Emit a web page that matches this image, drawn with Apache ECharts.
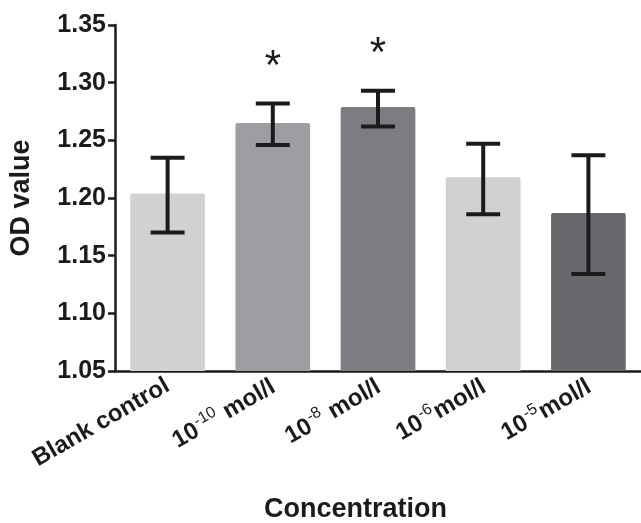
<!DOCTYPE html>
<html lang="en">
<head>
    <meta charset="utf-8">
    <title>OD value by concentration</title>
    <style>
        html, body { margin: 0; padding: 0; background: #fff; }
        #chart { width: 641px; height: 523px; }
    </style>
</head>
<body>
    <div id="chart"></div>
    <script src="https://cdn.jsdelivr.net/npm/echarts@6/dist/echarts.min.js"></script>
    <script type="text/javascript">
        // data
        var categories = ['Blank control', '10^-10^ mol/l', '10^-8^ mol/l', '10^-6^mol/l', '10^-5^mol/l'];
        var means = [1.204, 1.265, 1.279, 1.218, 1.187];
        var errUpper = [1.235, 1.282, 1.293, 1.247, 1.237];
        var errLower = [1.170, 1.246, 1.262, 1.186, 1.134];
        var marks = ['', '*', '*', '', ''];
        var barColors = ['#d0d1d3', '#9d9ea2', '#7c7d81', '#d0d1d3', '#68696d'];

        var font = '"Liberation Sans", Arial, Helvetica, sans-serif';
        var ink = '#1b1b1b';

        // "10^-10^ mol/l" -> rich text with a superscript
        function labelFmt(v) {
            var parts = v.split('^');
            if (parts.length < 3) return '{b|' + v + '}';
            return '{b|' + parts[0] + '}{sup|' + parts[1] + '}{b|' + parts[2] + '}';
        }

        var chart = echarts.init(document.getElementById('chart'));
        var option = {
            backgroundColor: '#fff',
            animation: false,
            grid: { left: 115, right: 0, top: 25, bottom: 152 },
            xAxis: {
                type: 'category',
                data: categories,
                axisLine: { lineStyle: { color: ink, width: 2.5 } },
                axisTick: { alignWithLabel: true, length: 5, lineStyle: { color: ink, width: 2.5 } },
                axisLabel: {
                    rotate: 30,
                    margin: 13,
                    formatter: labelFmt,
                    rich: {
                        b: { fontFamily: font, fontWeight: 'bold', fontSize: 24, color: ink, verticalAlign: 'bottom' },
                        sup: { fontFamily: font, fontWeight: 'normal', fontSize: 16, color: ink, verticalAlign: 'top', padding: [0, 1, 11, 1] }
                    }
                }
            },
            yAxis: {
                type: 'value',
                min: 1.05,
                max: 1.35,
                interval: 0.05,
                name: 'OD value',
                nameLocation: 'middle',
                nameGap: 80,
                nameTextStyle: { fontFamily: font, fontWeight: 'bold', fontSize: 27, color: ink },
                splitLine: { show: false },
                axisLine: { show: true, lineStyle: { color: ink, width: 2.5 } },
                axisTick: { show: true, length: 7, lineStyle: { color: ink, width: 2.5 } },
                axisLabel: {
                    margin: 9,
                    fontFamily: font,
                    fontWeight: 'bold',
                    fontSize: 25,
                    color: ink,
                    formatter: function (v) { return v.toFixed(2); }
                }
            },
            graphic: [{
                type: 'text',
                left: 264,
                top: 496,
                style: { text: 'Concentration', fontFamily: font, fontWeight: 'bold', fontSize: 27, fill: ink }
            }],
            series: [
                {
                    type: 'bar',
                    barWidth: '71%',
                    data: means.map(function (m, i) {
                        return { value: m, itemStyle: { color: barColors[i], borderRadius: [2, 2, 0, 0] } };
                    })
                },
                {
                    type: 'custom',
                    z: 5,
                    data: means.map(function (m, i) { return [i, errLower[i], errUpper[i]]; }),
                    renderItem: function (params, api) {
                        var i = api.value(0);
                        var lo = api.coord([i, api.value(1)]);
                        var hi = api.coord([i, api.value(2)]);
                        var cap = 17;
                        var st = { stroke: ink, lineWidth: 4 };
                        var kids = [
                            { type: 'line', shape: { x1: hi[0], y1: hi[1], x2: lo[0], y2: lo[1] }, style: st },
                            { type: 'line', shape: { x1: hi[0] - cap, y1: hi[1], x2: hi[0] + cap, y2: hi[1] }, style: st },
                            { type: 'line', shape: { x1: lo[0] - cap, y1: lo[1], x2: lo[0] + cap, y2: lo[1] }, style: st }
                        ];
                        if (marks[i]) {
                            kids.push({
                                type: 'text',
                                x: hi[0],
                                y: hi[1] - 36,
                                style: { text: marks[i], fontFamily: font, fontSize: 42, fill: ink, textAlign: 'center', textVerticalAlign: 'middle' }
                            });
                        }
                        return { type: 'group', children: kids };
                    }
                }
            ]
        };
        chart.setOption(option);
    </script>
</body>
</html>
